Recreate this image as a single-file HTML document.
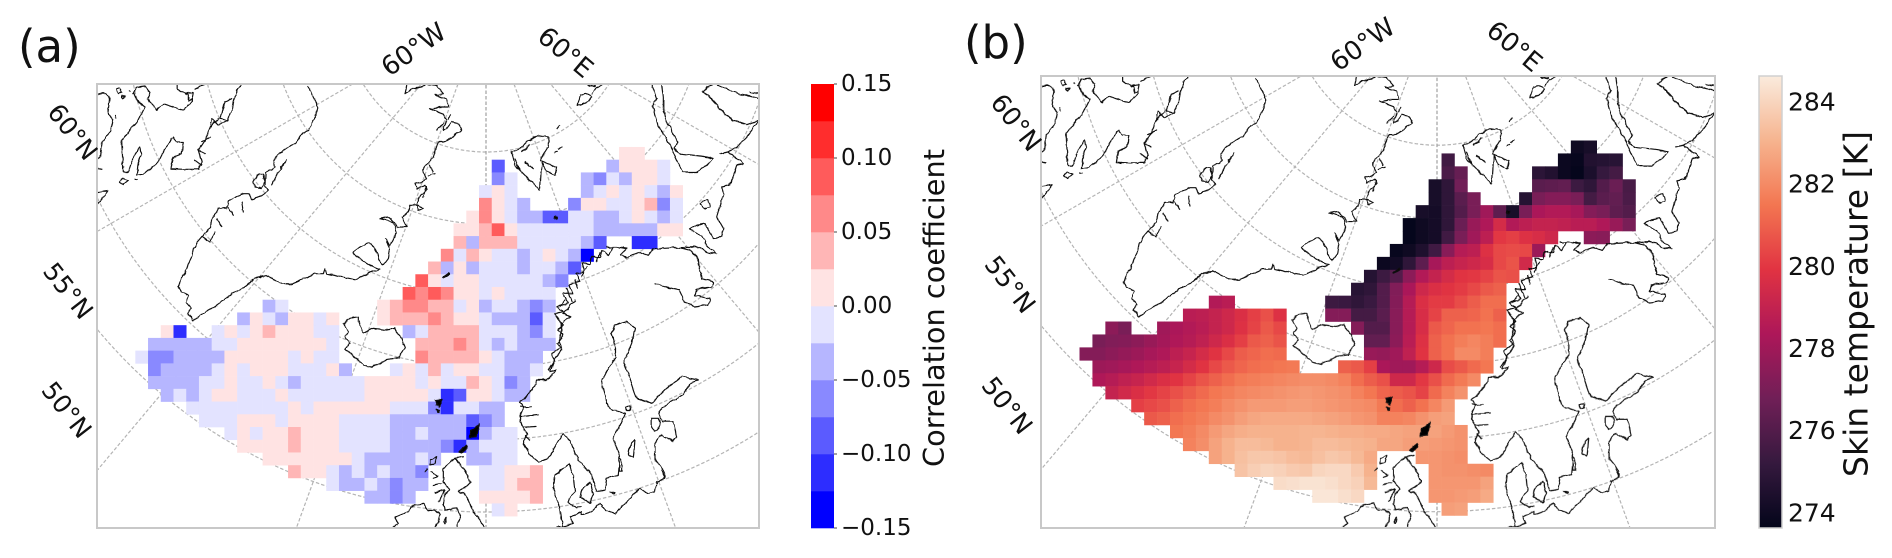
<!DOCTYPE html>
<html lang="en">
<head>
<meta charset="utf-8">
<title>Correlation coefficient and skin temperature maps</title>
<style>
html,body{margin:0;padding:0;background:#fff;width:1892px;height:558px;overflow:hidden}
svg{display:block;overflow:hidden}
text{font-family:"DejaVu Sans","Liberation Sans",sans-serif;fill:#111}
.coast path{fill:none;stroke:#111;stroke-width:3.5;stroke-linejoin:round;stroke-linecap:round}
.coast path.blob{fill:#000}
</style>
</head>
<body>
<svg id="fig" xmlns="http://www.w3.org/2000/svg" width="1892" height="558" viewBox="0 0 1892 558">
<defs>
<clipPath id="clip-a"><rect x="97" y="84" width="662" height="444"/></clipPath>
<clipPath id="clip-b"><rect x="97" y="84" width="662" height="444"/></clipPath>
<filter id="coast-wobble" filterUnits="userSpaceOnUse" x="90" y="78" width="676" height="456">
 <feTurbulence type="fractalNoise" baseFrequency="0.16" numOctaves="2" seed="4" result="n"/>
 <feDisplacementMap in="SourceGraphic" in2="n" scale="3.2" xChannelSelector="R" yChannelSelector="G"/>
</filter>
<g id="coast-shapes" class="coast">
 <g transform="translate(95,82) scale(.33333)">
  <path d="M295,715 L278,695 L290,680 L272,660 L282,640 L262,630 L250,615 L258,590 L272,570 L280,545 L290,525 L295,500 L305,482 L322,462 L345,438 L352,410 L372,380 L395,378 L400,358 L425,342 L445,335 L462,335 L470,352 L495,345 L520,325 L510,310 L512,268 L530,262 L540,255 L535,235 L545,220 L575,198 L600,185 L620,155 L640,145 L650,125 L665,95 L665,65 L652,40 L640,12"/>
  <path d="M475,300 L485,280 L505,275 L510,300 L500,318 L480,315 Z"/>
  <path d="M530,310 L545,280 L575,232 M320,462 L345,480 L360,450 M400,375 L415,400 M440,360 L445,390 M365,410 L380,432"/>
  <path d="M295,715 L315,700 L350,680 L385,655 L410,635 L450,615 L480,590 L490,585 L510,580 L540,595 L555,605 L590,605 L625,590 L660,575 L685,575 L690,560 L695,575 L730,583 L780,592 L820,575 L855,562"/>
  <path d="M10,35 L35,35 L45,50 L40,95 L55,115 L45,150 L20,180 L15,225 L10,230 M10,260 L20,262 M60,100 L62,110"/>
  <path d="M150,75 L130,115 L100,150 L80,175 L85,270 L100,270 L115,225 L135,195 L140,215 L130,240 L125,280 L150,275 L190,240 L205,210 L235,165 L245,180 L265,180 L260,215 L235,225 L228,260 L265,262 L310,262 L320,240 L310,205 L330,175 L345,135 L350,110 L370,130 L395,115 L410,90 L415,55 L430,20 L440,8"/>
  <path d="M150,75 L130,60 L115,35 L125,15 L150,12 L165,30 L160,50 L165,60 L185,85 L205,65 L265,85 L290,60 L295,30 L270,35 L245,20 L245,8 M280,35 L280,58 L292,50 M300,20 L320,10 L330,8"/>
  <path d="M75,300 L85,290 L100,295 L85,307 Z M120,290 L127,292 M65,22 L75,18 L82,32 L70,35 Z M80,42 L90,40 L85,50 Z M100,25 L104,28"/>
  <path d="M10,330 L40,325 L30,340 L10,365 M410,50 L390,60 L375,110 L395,115 M345,135 L370,110 M320,180 L345,165 M310,205 L330,215 M300,235 L320,250"/>
 </g>
 <g transform="translate(280,82) scale(.33333)">
  <path d="M300,562 L270,550 L230,525 L220,510 L240,495 L270,480 L290,510 L300,540 L310,550 L325,530 L330,500 L315,470 L330,490 L350,450 L340,420 L300,410 L325,405 L345,420 L350,435 L380,435 L365,405 L385,390 L390,370 L415,370 L430,380 L415,385 L410,365 L420,340 L440,325 L435,310 L410,320 L405,305 L425,300 L440,290 L430,270 L430,260 L460,225 L470,195 L475,180 L490,180 L515,165 L545,145 L535,125 L515,120 L500,140 L490,145 L500,115 L490,95 L450,80 L480,75 L505,75 L500,50 L465,40 L490,35 L470,12 L445,8"/>
  <path d="M380,10 L375,35 L400,20 L420,15 L440,8 M450,250 L458,270 M445,280 L465,275 M430,345 L438,315 M470,145 L490,125 M505,110 L510,100"/>
  <path d="M695,210 L720,200 L745,175 L775,160 L805,165 L805,195 L780,235 L830,255 L825,280 L800,268 L785,240 L780,325 L745,290 L705,250 Z M725,210 L750,190 M760,260 L735,240 M705,232 L720,265"/>
  <path d="M832,142 L840,132 M825,212 L832,208 M835,200 L845,195"/>
  <path class="blob" d="M490,585 L506,572 L510,576 L494,586 Z M825,402 L832,404 L830,411 L824,408 Z"/>
 </g>
 <g transform="translate(520,82) scale(.33333)">
  <path d="M170,70 L180,40 L200,35 L215,45 L205,60 L180,70 Z M215,35 L225,20 L245,10 M205,10 L225,14"/>
  <path d="M395,8 L410,50 L398,70 L415,130 L430,155 L455,200 L480,255 L490,270 L530,270 L560,250 L578,228 L540,222 L480,215 L462,200 L475,180 L445,130 L430,90 L430,45 L425,8"/>
  <path d="M580,8 L560,15 L548,30 L565,40 L610,90 L640,115 L680,128 L718,115 M590,8 L640,30 L718,50 M718,35 L690,30"/>
  <path d="M718,115 L680,165 L650,195 L625,210 L600,215 L625,210 L670,245 L650,250 L630,310 L605,315 L610,335 L590,405 L610,440 L605,465 L580,468 L555,425 L530,430 L510,442 L545,460 L560,490 L590,515 L560,510 L535,495 L480,497 L400,500 L385,520 L360,510 L320,525 L300,520 L320,500 L290,495 L262,495"/>
  <path d="M545,360 L565,352 L570,375 L555,380 L540,365 Z"/>
  <path d="M480,497 L510,505 L535,530 L538,560 L545,590 L582,600 L575,615 L530,620 L525,640 L570,650 L565,668 L525,675 L495,660 L478,625 L440,615 L405,604"/>
 </g>
 <g transform="translate(400,130) scale(.33333)">
  <path d="M640,352 L625,375 L605,362 L600,385 L575,378 L570,402 L545,400 L552,425 L528,432 L540,455 L505,465 L520,490 L490,490 L505,520 L470,530 L490,545 L462,552 L490,585 L475,600 L490,615 L470,640 L480,655 L455,670 L465,690 L445,720"/>
  <path d="M600,368 L590,395 M560,410 L545,440 M525,450 L530,475 M495,510 L480,530 M500,475 L515,515"/>
  <path d="M130,440 L145,430" />
 </g>
 <g transform="translate(520,300) scale(.33333)">
  <path d="M165,0 L130,40 L150,50 L125,70 L125,100 L115,120 L125,150 L105,175 L90,215 L110,210 L80,240 L50,240 L40,265 L15,295 L0,305 L10,320 L0,345 L5,375 L20,400 L10,430 L30,465 L55,485 L85,475 L130,400 L150,425 L175,480 L215,525 L230,575 L255,570 L260,535 L295,525 L300,470 L280,415 L300,375 L315,340 L280,330 L265,320 L250,270 L245,245 L265,205 L285,175 L285,140 L275,100 L285,75 L320,65 L345,85 L335,130 L310,190 L330,235 L350,295 L395,310 L440,265 L485,230 L535,240 L510,250 L490,285 L430,320 L415,340 L425,365 L460,365 L470,410 L460,425 L425,405 L405,430 L405,480 L430,510 L435,535 L410,545 L405,575 L385,580 L360,565 L325,600 L285,640 L255,630 L240,610 L215,635 L185,645 L185,635 L150,650 L160,670 L130,680 L85,685"/>
  <path d="M148,490 L105,525 L100,570 L120,620 L125,660 L130,680 M148,490 L160,530 L165,575 L150,590 L145,605 L170,625 L185,620 M210,545 L185,570 L180,590 L210,610 L220,580 Z"/>
  <path d="M345,420 L330,435 L325,465 L340,472 Z M298,470 L298,515 L305,515 L305,480 Z M318,320 L330,318 L332,330 L320,330 Z M395,355 L415,355 L420,375 L405,395 L395,380 Z M425,510 L435,535 M272,575 L285,578 L280,582 Z"/>
  <path d="M0,320 L35,322 M0,350 L55,345 M10,380 L48,378 M15,405 L30,420"/>
 </g>
 <g transform="translate(380,440) scale(.33333)">
  <path d="M250,50 L225,55 L260,100 L270,130 L235,155 L250,160 L265,180 L280,215 L300,240 L315,268"/>
  <path d="M225,55 L190,85 L190,125 L210,150 L195,160 L190,195 L195,210 L230,205 L240,235 L230,265"/>
  <path d="M150,60 L170,50 L165,70 L150,75 Z M135,95 L142,88 M155,95 L175,110 L160,115 M160,135 L185,130 M165,160 L195,150 L175,185 M190,245 L200,235 L195,250 Z"/>
  <path d="M45,232 L85,215 L90,200 L130,190 L145,210 L165,210 L180,225 L165,268 M45,232 L55,250 L40,262"/>
 </g>
 <g transform="translate(100,280) scale(.33333)">
  <path d="M730,130 L750,115 L775,110 L775,125 L790,160 L820,145 L860,150 L885,145 L905,175 L915,205 L895,235 L860,240 L815,262 L790,255 L750,220 L735,205 L750,190 L735,170 L745,155 Z"/>
  <path class="blob" d="M1006,362 L1026,358 L1022,372 L1018,380 L1010,374 Z M1010,386 L1017,390 L1014,399 Z M1138,432 L1130,470 L1108,472 L1112,450 L1125,445 Z M1078,516 L1098,495 L1101,505 L1086,519 Z"/>
 </g>
</g>
</defs>

<g id="panel-a">
 <text x="18" y="62" font-size="45">(a)</text>
 <g id="grat-a"></g>
 <g id="cells-a"></g>
 <g clip-path="url(#clip-a)"><use href="#coast-shapes" filter="url(#coast-wobble)"/></g>
 <rect x="97" y="84" width="662" height="444" fill="none" stroke="#c8c8c8" stroke-width="2"/>
 <text transform="translate(414,50) rotate(-35)" font-size="26" text-anchor="middle" dominant-baseline="central">60°W</text>
 <text transform="translate(565,53) rotate(40)" font-size="26" text-anchor="middle" dominant-baseline="central">60°E</text>
 <text transform="translate(72.5,132) rotate(52)" font-size="25" text-anchor="middle" dominant-baseline="central">60°N</text>
 <text transform="translate(68,291) rotate(52)" font-size="25" text-anchor="middle" dominant-baseline="central">55°N</text>
 <text transform="translate(66.5,410) rotate(52)" font-size="25" text-anchor="middle" dominant-baseline="central">50°N</text>
 <g id="cbar-a"></g>
 <text transform="translate(934,308) rotate(-90)" font-size="28.8" text-anchor="middle" dominant-baseline="central">Correlation coefficient</text>
</g>

<g id="panel-b">
 <text x="964" y="58" font-size="45">(b)</text>
 <g id="grat-b"></g>
 <g id="cells-b"></g>
 <g transform="translate(1041,76) scale(1.018) translate(-97,-84)" clip-path="url(#clip-b)"><use href="#coast-shapes" filter="url(#coast-wobble)"/></g>
 <rect x="1041" y="76" width="674" height="452" fill="none" stroke="#c8c8c8" stroke-width="2"/>
 <text transform="translate(1363,45) rotate(-35)" font-size="26" text-anchor="middle" dominant-baseline="central">60°W</text>
 <text transform="translate(1514,47) rotate(40)" font-size="26" text-anchor="middle" dominant-baseline="central">60°E</text>
 <text transform="translate(1015.5,123) rotate(52)" font-size="25.5" text-anchor="middle" dominant-baseline="central">60°N</text>
 <text transform="translate(1009.5,285) rotate(52)" font-size="25.5" text-anchor="middle" dominant-baseline="central">55°N</text>
 <text transform="translate(1006.5,406) rotate(52)" font-size="25.5" text-anchor="middle" dominant-baseline="central">50°N</text>
 <g id="cbar-b"></g>
 <text transform="translate(1856,304) rotate(-90)" font-size="33" text-anchor="middle" dominant-baseline="central">Skin temperature [K]</text>
</g>
</svg>

<script>
// Correlation coefficient grid: first grid column of each row, then values per row.
const corrRowStart = [38,28,28,27,27,26,25,25,24,23,22,21,10,8,2,1,0,1,1,2,4,5,7,8,10,12,15,18,28];
const corrRows = [
[.01,.01],
[-.09,,,,,,,,,-.04,.01,.01,.01,-.01],
[-.06,-.01,,,,,,-.04,-.06,-.01,-.04,.01,.01,-.01],
[-.01,.01,-.01,,,,,,-.04,-.01,.01,-.01,.01,-.01,-.04,.01],
[.06,.01,-.01,-.04,,,,-.06,.01,.01,-.01,-.01,.01,.04,-.06,-.01],
[.01,.06,.01,-.01,-.04,-.04,-.09,-.09,-.01,-.01,-.04,-.04,-.01,.01,-.01,-.04,-.01],
[.01,.01,.04,.09,.01,-.01,-.01,-.01,-.01,-.01,-.01,-.04,-.04,-.04,-.04,-.04,.01,.01],
[.04,-.04,.04,.04,.04,-.01,-.01,-.01,-.01,-.01,-.04,-.09,,,-.11,-.11],
[.06,-.01,.04,.01,-.01,-.01,-.04,-.01,.01,-.01,-.04,-.14],
[.04,-.04,.01,-.04,-.01,-.01,-.01,-.04,-.01,-.01,-.04,-.09],
[.09,.01,-.01,.01,.01,-.01,-.01,-.01,-.01,-.01,-.04,-.06],
[.09,.06,.09,.06,.01,.01,-.01,.01,-.01,-.01,-.01,-.01],
[-.04,-.01,,,,,,,,.01,.04,.06,.06,.04,.04,-.01,.01,-.04,-.01,-.01,-.04,-.06,-.04],
[-.04,.01,-.01,-.04,.01,.01,-.01,.01,,,,.01,.04,.04,.04,.06,.04,.01,.01,-.01,-.04,-.04,-.04,-.09,-.01],
[.01,-.11,,,-.01,.01,-.01,.01,.04,.01,.01,.01,-.01,-.01,,,,,,-.04,-.01,.04,.04,.04,.04,-.01,-.01,-.01,-.04,-.06,-.01],
[-.04,-.04,-.04,-.04,-.04,-.01,-.01,.01,.01,.01,.01,.01,.01,.01,-.01,,,,,,,.04,.04,.04,.06,.04,-.01,-.04,-.01,-.04,-.04,-.04],
[-.01,-.06,-.06,-.04,-.04,-.04,-.04,.01,.01,.01,.01,.01,-.01,.01,-.01,-.01,,,,,,,.06,.04,.04,.04,.04,.01,-.01,-.04,-.04,-.04],
[-.06,-.04,-.04,-.04,-.04,-.01,.01,-.01,.01,.01,.01,-.01,-.01,-.01,.01,-.04,,,,-.01,.01,-.01,.04,-.01,.01,.01,-.01,-.01,-.04,-.04,-.01],
[-.04,-.04,-.04,-.04,-.01,-.01,.01,-.01,-.01,.01,-.01,-.04,-.01,-.01,-.01,-.01,-.01,.01,.01,.01,.01,-.01,.01,-.01,-.01,.04,.01,-.01,-.06,-.04],
[-.04,-.01,-.04,-.01,.01,.01,-.01,-.01,-.01,.01,-.01,-.01,-.01,-.01,-.01,-.01,.01,.01,.01,.01,.01,-.01,-.11,-.09,.01,.01,-.01,-.04,-.04],
[-.01,-.01,-.01,-.01,-.01,-.01,-.01,-.01,.01,-.01,.01,.01,.01,.01,.01,.01,-.01,-.01,-.01,-.06,-.11,-.01,-.01,-.04,-.04],
[-.01,-.01,-.01,.01,.01,.01,-.01,.01,.01,.01,.01,-.01,-.01,-.01,-.01,-.04,-.04,-.04,-.04,-.04,-.04,-.09,-.06,-.04],
[-.01,.01,-.01,.01,.01,.04,.01,.01,.01,-.01,-.01,-.01,-.01,-.04,-.04,-.01,-.04,-.04,-.04,-.14,-.04,-.01,-.01],
[.01,.01,.01,.01,.04,.01,.01,.01,-.01,-.01,-.01,-.01,-.04,-.04,-.04,-.04,-.06,-.11,-.04,-.01,-.01,-.01],
[.01,.01,.01,.01,.01,.01,.01,-.01,-.04,-.04,-.04,-.04,-.01,-.04,,,-.04,-.04,-.01,-.01],
[.04,.01,.01,-.01,-.04,-.01,-.04,-.01,-.04,-.04,-.06,,,,,-.01,-.01,.01,.01,.04],
[-.01,-.04,-.04,-.01,-.04,-.06,-.04,-.04,,,,,-.01,-.01,.01,.04,.04],
[-.04,-.04,-.06,-.04,,,,,,.01,.01,.01,.01,.04],
[-.01,.01]
];
const corrBinColors = ["#0000ff","#2d2dff","#5b5bff","#8989ff","#b6b6ff","#e3e3ff","#ffe3e3","#ffb6b6","#ff8989","#ff5b5b","#ff2d2d","#ff0000"];
const corrTicks = [-0.15,-0.10,-0.05,0,0.05,0.10,0.15];

// Skin temperature grid (K): first grid column of each row, then values per row.
const tempRowStart = [38,28,28,27,27,26,25,25,24,23,22,21,10,8,2,1,0,1,1,2,4,5,7,8,10,12,15,18,28];
const tempRows = [
[274,274.3],
[275.5,,,,,,,,,273.9,273.8,274.6,274.7,274.8],
[275.8,276.5,,,,,,274.9,274.6,273.9,273.7,274.4,275.2,275.6],
[274.3,275,276.8,,,,,,276.2,276.3,276.4,275.4,275,276,276.6,275.7],
[274.3,275,276.2,277,,,,274.7,277,277.3,277.3,277,275.6,276.2,276.4,275.8],
[274.3,274.2,275,276,277,278,276.3,274.3,277,278.3,278.5,278.5,278.2,277.3,277,276.3,276],
[273.7,274,274.2,275,276.6,277.8,278.4,279.5,278.5,278.8,279,279,278.9,278.7,278.7,278.4,277.8,277],
[273.7,274,274.2,275.5,277,278,278.8,280,280.2,279.8,279.6,279.3,,,277.5,277.4],
[273.8,274,274.5,275.5,277.4,278.6,278.8,279.8,280.4,280.5,280.4,277.9],
[273.9,274.1,275,276.3,278.2,278.8,279.1,279.3,279.6,280.4,280.7,279.4],
[274.7,275.4,276,277.5,278.5,279,279.5,279.9,280,280.3,280.7,280.6],
[274.8,275,276,277.2,278.3,279.3,279.7,279.9,280.1,280.4,280.8,281],
[278.5,278.7,,,,,,,,275.4,275.3,275,275.3,276,277.3,278.6,279.7,280.1,280.1,280.5,280.9,281.3,281.3],
[278.7,278.8,279,279.3,279.7,280.2,280.6,279.8,,,,277.3,277.3,275.6,275.6,276.2,277.4,278.6,279.6,280.3,281,281,281.1,281.4,281],
[277.5,277,,,278,278.3,278.5,278.7,279,279.3,279.8,280.3,280.8,280.4,,,,,,277.3,276,276,277.4,278.6,279.6,280.8,281.1,281.4,281.4,281.5,281.3],
[277,277.2,277.3,277.5,277.8,278.1,278.4,278.6,278.9,279.3,279.7,280.2,280.8,281,280.7,,,,,,,276.4,276.4,277.5,278.7,279.8,281,281.4,281.7,281.9,281.7,281.3],
[277.3,277.3,277.5,277.7,277.9,278.2,278.4,278.8,279.1,279.5,279.9,280.4,280.9,281.1,281.3,281.2,,,,,,,277.8,277.7,278,278.9,279.9,281,281.4,282,282,281.7],
[277.9,278,278.2,278.4,278.6,278.8,279.1,279.5,279.9,280.4,280.8,281.1,281.3,281.4,281.5,281.6,,,,281,280.8,280.2,278.3,278,278,278.6,279.3,280.5,280.8,281.2,281.5],
[278.4,278.6,278.9,279.1,279.4,279.7,279.9,280.3,280.7,281,281.3,281.6,281.7,281.8,281.9,282,282.1,282.1,282,281.8,281.3,280.9,280.6,279.3,279.3,280,280.6,281.2,281.6,282],
[279,279.4,279.7,280,280.3,280.6,280.9,281.2,281.5,281.7,281.9,282,282.1,282.2,282.3,282.4,282.3,282.2,282.1,281.8,281.5,281.1,280.9,280.7,280.3,281.2,281.8,282.2],
[280.2,280.4,280.6,281,281.3,281.5,281.7,282,282.2,282.4,282.4,282.4,282.5,282.5,282.4,282.3,282.2,282.1,282,281.6,281.3,281,281.4,281.9,282.4],
[280.8,281,281.3,281.5,281.7,282,282.2,282.5,282.7,282.8,282.8,282.8,282.8,282.7,282.6,282.5,282.3,282.2,281.8,281.8,281.9,282.2,282.5,282.6],
[281.5,281.7,282,282.4,282.7,282.9,283,283,283,283,283.1,283.1,283,282.9,282.9,282.8,282.8,282.7,282.6,282.6,282.6,282.4,282.2],
[281.8,282.1,282.6,283,283.3,283.3,283.2,283,283,283.1,283.3,283.3,283.2,283.1,283,282.7,282.7,282.5,282.5,282.4,282.3,282.2],
[282.6,283,283.4,283.6,283.6,283.5,283.3,283.2,283.4,283.6,283.5,283.2,282.8,,,,282.3,282.3,282.2,282.1],
[283.5,283.8,284,283.9,283.7,283.6,284,284.1,284.1,283.7,283,,,,,282.3,282.2,282.2,282.1,282],
[284.2,284.3,284.4,284.4,284.3,284.1,283.9,283.2,,,,,282.3,282.3,282.3,282.3,282.6],
[284.5,284.5,284.3,284.1,,,,,,282.3,282.3,282.4,282.5,282.8],
[282.5,282.6]
];
const tempTicks = [274,276,278,280,282,284];
const rocketStops = ["#03051a","#35193e","#701f57","#ad1759","#e13342","#f37651","#f6b48f","#faebdd"];

// Graticule: meridian offsets from the central meridian (degrees) and parallel spacing index.
const meridianAngles = [-60,-40,-20,0,20,40,60];
const parallelIndex = [2,3,4,5,6,7];

const NS = "http://www.w3.org/2000/svg";
function make(parent, tag, attrs){
  const el = document.createElementNS(NS, tag);
  for (const k in attrs) el.setAttribute(k, attrs[k]);
  parent.appendChild(el);
  return el;
}
function hexToRgb(h){return [1,3,5].map(i=>parseInt(h.slice(i,i+2),16));}
function rocket(t){
  t = Math.min(1,Math.max(0,t))*(rocketStops.length-1);
  const i = Math.min(rocketStops.length-2,Math.floor(t));
  const a = hexToRgb(rocketStops[i]), b = hexToRgb(rocketStops[i+1]), f = t-i;
  return "rgb("+a.map((v,n)=>Math.round(v+(b[n]-v)*f)).join(",")+")";
}
const corrMin=-0.15, corrMax=0.15, tempMin=273.63, tempMax=284.63;
function corrColor(v){
  const n = corrBinColors.length;
  const i = Math.max(0,Math.min(n-1,Math.floor((v-corrMin)/(corrMax-corrMin)*n)));
  return corrBinColors[i];
}
function tempColor(v){return rocket((v-tempMin)/(tempMax-tempMin));}

function drawCells(group, starts, rows, colorFn, x0, y0, size, name){
  rows.forEach(function(row, r){
    row.forEach(function(v, i){
      const c = make(group,"rect",{x:x0+(starts[r]+i)*size,y:y0+r*size,width:size+.3,height:size+.3,fill:colorFn(v)});
      
      
    });
  });
}
// Build path data from a polar curve, keeping only the parts inside the map frame.
function framedPath(fx, fy, fw, fh, px, py, tFrom, tTo, n, polar){
  let d = "", pen = false;
  for (let i=0;i<=n;i++){
    const t = tFrom+(tTo-tFrom)*i/n;
    const p = polar(t);
    const x = px+p[0]*Math.sin(p[1]), y = py+p[0]*Math.cos(p[1]);
    if (x>=fx && x<=fx+fw && y>=fy && y<=fy+fh){
      d += (pen?"L":"M")+x.toFixed(1)+","+y.toFixed(1)+" ";
      pen = true;
    } else pen = false;
  }
  return d;
}
function drawGraticule(group, fx, fy, fw, fh, px, py, step, off){
  const g = make(group,"g",{fill:"none",stroke:"#b4b4b4","stroke-width":"1.2","stroke-dasharray":"3.5 2"});
  parallelIndex.forEach(function(k){
    const R = step*k+off;
    const d = framedPath(fx,fy,fw,fh,px,py,-Math.PI/2,Math.PI/2,720,function(t){return [R,t];});
    const c = make(g,"path",{d:d});
    
    
  });
  meridianAngles.forEach(function(a){
    const t = a*Math.PI/180;
    const d = framedPath(fx,fy,fw,fh,px,py,0,900,450,function(r){return [r,t];});
    const l = make(g,"path",{d:d});
    if (a===0) l.setAttribute('stroke','#a0a0a0');
    
    
  });
}

drawGraticule(document.getElementById("grat-a"),97,84,662,444,486,7,72,1);
drawGraticule(document.getElementById("grat-b"),1041,76,674,452,1437,-2.4,73.3,1);
drawCells(document.getElementById("cells-a"),corrRowStart,corrRows,corrColor,135.3,146.95,12.73,"correlation-cell");
drawCells(document.getElementById("cells-b"),tempRowStart,tempRows,tempColor,1079.5,140.5,12.93,"temperature-cell");

// Colorbar (a)
(function(){
  const g = document.getElementById("cbar-a");
  const top=84,bottom=528,x=811,w=23;
  const y = v => bottom-(v-corrMin)/(corrMax-corrMin)*(bottom-top);
  const n = corrBinColors.length;
  corrBinColors.forEach(function(col,i){
    const v0 = corrMin+i*(corrMax-corrMin)/n, v1 = corrMin+(i+1)*(corrMax-corrMin)/n;
    const r = make(g,"rect",{x:x,y:y(v1),width:w,height:y(v0)-y(v1)+.3,fill:col});
    
    
  });
  corrTicks.forEach(function(v){
    const tick = make(g,"line",{x1:x+w,x2:x+w+3,y1:y(v),y2:y(v),stroke:"#444","stroke-width":"1"});
    
    
    const t = make(g,"text",{x:841,y:y(v),"font-size":"23","dominant-baseline":"central"});
    t.textContent = (v<0?"\u2212":"")+Math.abs(v).toFixed(2);
    
    
  });
})();

// Colorbar (b)
(function(){
  const g = document.getElementById("cbar-b");
  const top=76,bottom=528,x=1759,w=23;
  const y = v => bottom-(v-tempMin)/(tempMax-tempMin)*(bottom-top);
  const defs = make(g,"defs",{});
  const grad = make(defs,"linearGradient",{id:"rocket-grad",x1:"0",y1:"1",x2:"0",y2:"0"});
  rocketStops.forEach(function(c,i){
    make(grad,"stop",{offset:i/(rocketStops.length-1),"stop-color":c});
  });
  const bar = make(g,"rect",{x:x,y:top,width:w,height:bottom-top,fill:"url(#rocket-grad)",stroke:"#d0d0d0","stroke-width":"1.5"});
  
  
  tempTicks.forEach(function(v){
    const t = make(g,"text",{x:1788,y:y(v),"font-size":"25","dominant-baseline":"central"});
    t.textContent = String(v);
    
    
  });
})();
</script>
</body>
</html>
